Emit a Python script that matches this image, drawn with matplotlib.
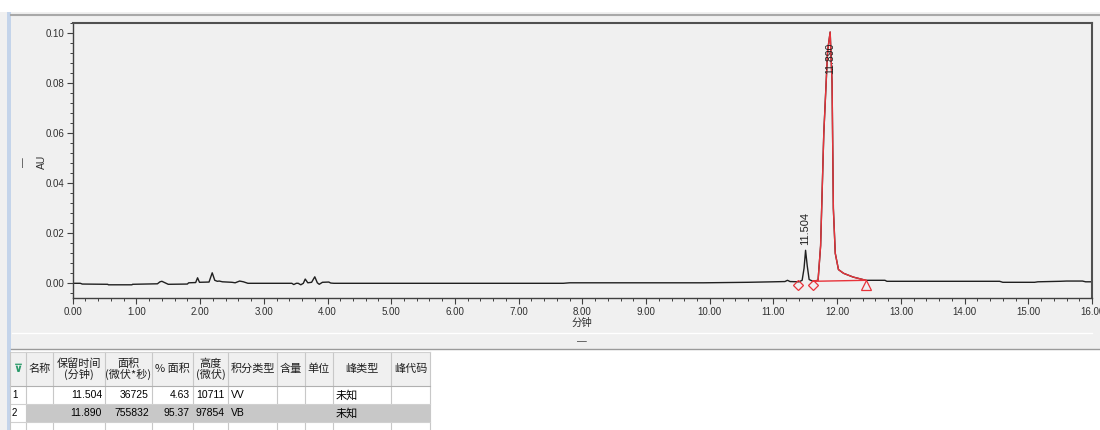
import matplotlib.pyplot as plt
from matplotlib.patches import Rectangle
from matplotlib.ticker import MultipleLocator, FormatStrFormatter

plt.rcParams['font.family'] = ['Liberation Sans', 'Noto Sans CJK SC', 'DejaVu Sans']
CJK = ['Noto Sans CJK SC', 'DejaVu Sans']

# detector trace, minutes vs AU
time_min = [0.00, 0.12, 0.15, 0.55, 0.56, 0.93, 0.94, 1.33, 1.37, 1.40, 1.45, 1.50,
            1.80, 1.82, 1.93, 1.96, 1.99, 2.14, 2.19, 2.23, 2.27, 2.30, 2.35, 2.50,
            2.55, 2.62, 2.68, 2.75, 3.44, 3.47, 3.51, 3.54, 3.58, 3.62, 3.65, 3.69,
            3.75, 3.80, 3.84, 3.87, 3.92, 4.02, 4.05, 4.10, 7.70, 7.80, 9.90, 10.60,
            11.00, 11.18, 11.22, 11.26, 11.40, 11.45, 11.48, 11.504, 11.53, 11.56, 11.62,
            11.70, 11.74, 11.79, 11.85, 11.89, 11.92, 11.94, 11.97, 12.02, 12.10,
            12.25, 12.45, 12.75, 12.78, 14.55, 14.60, 15.10, 15.15, 15.50, 15.60,
            15.85, 15.90, 16.00]
signal_au = [0.0000, 0.0000, -0.0003, -0.0004, -0.0006, -0.0006, -0.0004, -0.0002,
             0.0006, 0.0008, 0.0002, -0.0004, -0.0003, 0.0002, 0.0003, 0.0022, 0.0004,
             0.0005, 0.0042, 0.0012, 0.0008, 0.0009, 0.0006, 0.0004, 0.0002, 0.0009,
             0.0006, 0.0000, 0.0000, -0.0005, 0.0000, 0.0000, -0.0006, 0.0000, 0.0017,
             0.0002, 0.0004, 0.0026, 0.0002, -0.0004, 0.0004, 0.0005, 0.0001, 0.0000,
             0.0000, 0.0002, 0.0002, 0.0004, 0.0006, 0.0007, 0.0012, 0.0007, 0.0006,
             0.0012, 0.0060, 0.0132, 0.0070, 0.0015, 0.0008, 0.0012, 0.0150, 0.0600,
             0.0930, 0.1005, 0.0800, 0.0300, 0.0120, 0.0055, 0.0040, 0.0025, 0.0012,
             0.0012, 0.0008, 0.0008, 0.0004, 0.0004, 0.0006, 0.0008, 0.0009, 0.0009,
             0.0006, 0.0006]

# integration results
peak_rt = [11.504, 11.890]
peak_label_y = [0.0153, 0.0961]
peak2_start, peak2_end = 11.62, 12.45
diamond_t = [11.38, 11.62]
triangle_t = [12.45]
marker_y = -0.0007

# results table
col_edges = [10, 26, 53, 105, 152, 193, 228, 277, 305, 333, 391, 430]
headers = ['', '名称', '保留时间\n(分钟)', '面积\n(微伏*秒)', '% 面积', '高度\n(微伏)',
           '积分类型', '含量', '单位', '峰类型', '峰代码']
row_ids = ['1', '2']
rt_col = ['11.504', '11.890']
area_col = ['36725', '755832']
pct_col = ['4.63', '95.37']
height_col = ['10711', '97854']
type_col = ['VV', 'VB']
peak_type_col = ['未知', '未知']

fig = plt.figure(figsize=(11, 4.3), dpi=100, facecolor='#f0f0f0')

# window frame drawn in pixel units
bg = fig.add_axes([0, 0, 1, 1])
bg.set_xlim(0, 1100)
bg.set_ylim(430, 0)
bg.axis('off')
bg.add_patch(Rectangle((0, 0), 1100, 12, color='white', lw=0))
bg.plot([11, 1100], [14.5, 14.5], color='#a8a8a8', lw=1.5)
bg.add_patch(Rectangle((7, 12), 4, 418, color='#c4d4ea', lw=0))
bg.plot([12, 1092], [333, 333], color='white', lw=1)
bg.text(582, 341, '—', ha='center', va='center', fontsize=7, color='#404040')
bg.text(23, 162, '—', ha='center', va='center', fontsize=7, color='#404040', rotation=90)

# table area
bg.add_patch(Rectangle((11, 349), 1089, 81, color='white', lw=0))
bg.plot([11, 1100], [349, 349], color='#9a9a9a', lw=1)
head_top, head_bot = 352, 386
row_h = 18
bg.add_patch(Rectangle((col_edges[0], head_top), col_edges[-1] - col_edges[0],
                       head_bot - head_top, facecolor='#f0f0f0', lw=0))
for i in range(len(col_edges) - 1):
    x0, x1 = col_edges[i], col_edges[i + 1]
    bg.plot([x1, x1], [head_top, 430], color='#c8c8c8', lw=0.8)
    bg.text((x0 + x1) / 2, (head_top + head_bot) / 2, headers[i], ha='center',
            va='center', fontsize=8, linespacing=0.95, color='#202020', family=CJK)
bg.text(18, 369, '⊽', ha='center', va='center', fontsize=8, color='#2a9a6a',
        fontweight='bold', family=['DejaVu Sans'])
bg.plot([col_edges[0], col_edges[-1]], [head_top, head_top], color='#d0d0d0', lw=0.8)
bg.plot([col_edges[0], col_edges[-1]], [head_bot, head_bot], color='#b0b0b0', lw=0.8)

for r in range(len(row_ids)):
    y0 = head_bot + r * row_h
    yc = y0 + row_h / 2
    if r == 1:
        bg.add_patch(Rectangle((col_edges[1], y0), col_edges[-1] - col_edges[1], row_h,
                               facecolor='#c8c8c8', lw=0))
    bg.plot([col_edges[0], col_edges[-1]], [y0 + row_h, y0 + row_h], color='#d0d0d0', lw=0.8)
    bg.text(col_edges[0] + 2, yc, row_ids[r], ha='left', va='center', fontsize=7)
    right_vals = [rt_col[r], area_col[r], pct_col[r], height_col[r]]
    for k, v in enumerate(right_vals):
        bg.text(col_edges[k + 3] - 3, yc, v, ha='right', va='center', fontsize=7.5)
    bg.text(col_edges[6] + 3, yc, type_col[r], ha='left', va='center', fontsize=7.5)
    bg.text(col_edges[9] + 3, yc, peak_type_col[r], ha='left', va='center', fontsize=8,
            family=CJK)
bg.plot([col_edges[0], col_edges[0]], [head_top, 430], color='#c8c8c8', lw=0.8)

# chromatogram
ax = fig.add_axes([72.7 / 1100, 1 - 297.7 / 430, (1092 - 72.7) / 1100, 275 / 430])
ax.set_facecolor('#f0f0f0')
ax.plot(time_min, signal_au, color='#202020', lw=1.0)

seg = [(t, v) for t, v in zip(time_min, signal_au) if peak2_start <= t <= peak2_end]
ax.plot([p[0] for p in seg], [p[1] for p in seg], color='#e8333a', lw=1.0)
ax.plot([seg[0][0], seg[-1][0]], [seg[0][1], seg[-1][1]], color='#e8333a', lw=1.0)
ax.plot(diamond_t, [marker_y] * len(diamond_t), 'D', mfc='none', mec='#e8333a',
        ms=5, mew=0.9)
ax.plot(triangle_t, [marker_y] * len(triangle_t), '^', mfc='none', mec='#e8333a',
        ms=7, mew=0.9)

ax.text(peak_rt[0], peak_label_y[0], f'{peak_rt[0]:.3f}', rotation=90, ha='center',
        va='bottom', fontsize=8, color='#202020')
ax.text(peak_rt[1], peak_label_y[1], f'{peak_rt[1]:.3f}', rotation=90, ha='center',
        va='top', fontsize=7.5, color='#202020')

ax.set_xlim(0, 16)
ax.set_ylim(-0.00576, 0.10424)
ax.xaxis.set_major_locator(MultipleLocator(1))
ax.xaxis.set_minor_locator(MultipleLocator(0.2))
ax.yaxis.set_major_locator(MultipleLocator(0.02))
ax.yaxis.set_minor_locator(MultipleLocator(0.004))
ax.xaxis.set_major_formatter(FormatStrFormatter('%.2f'))
ax.yaxis.set_major_formatter(FormatStrFormatter('%.2f'))
ax.tick_params(which='major', direction='out', length=4, width=0.8, color='#404040',
               labelsize=7, labelcolor='#303030', pad=2)
ax.tick_params(which='minor', direction='out', length=2.5, width=0.7, color='#404040')
ax.tick_params(axis='x', pad=3)
for side in ['left', 'bottom']:
    ax.spines[side].set_color('#404040')
    ax.spines[side].set_linewidth(1.0)
for side in ['top', 'right']:
    ax.spines[side].set_color('#505050')
    ax.spines[side].set_linewidth(1.5)

fig.text(582 / 1100, 1 - 323 / 430, '分钟', ha='center', va='center', fontsize=7.5,
         color='#303030', family=CJK)
fig.text(42 / 1100, 1 - 162 / 430, 'AU', ha='center', va='center', fontsize=7.5,
         rotation=90, color='#303030')

fig.savefig('out.png', dpi=100, facecolor=fig.get_facecolor())
